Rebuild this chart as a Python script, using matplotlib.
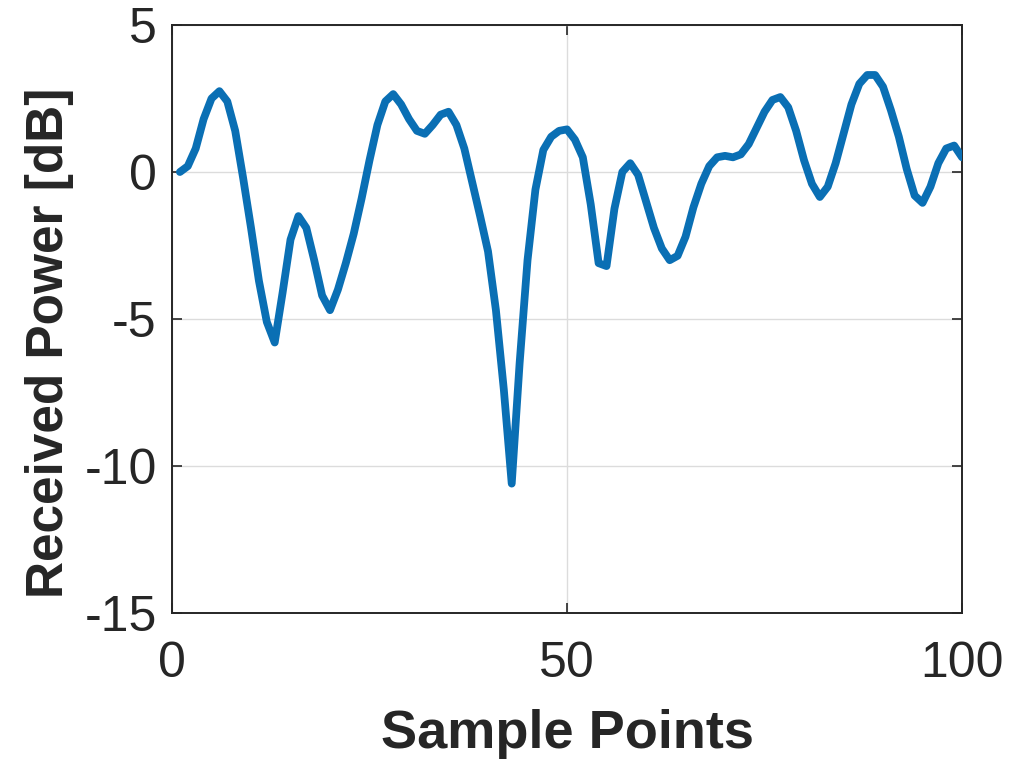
import numpy as np
import matplotlib
matplotlib.use("Agg")
import matplotlib.pyplot as plt

# Received power per sample point (dB)
sample_points = list(range(1, 101))
received_power_db = [
    0.0, 0.2, 0.8, 1.8, 2.5, 2.75, 2.4, 1.4, -0.2, -1.9,
    -3.7, -5.1, -5.8, -4.1, -2.3, -1.5, -1.9, -3.0, -4.2, -4.7,
    -4.0, -3.1, -2.1, -0.9, 0.4, 1.6, 2.4, 2.65, 2.3, 1.8,
    1.4, 1.3, 1.6, 1.95, 2.05, 1.6, 0.8, -0.35, -1.5, -2.7,
    -4.7, -7.4, -10.6, -6.5, -3.0, -0.6, 0.75, 1.2, 1.4, 1.45,
    1.1, 0.5, -1.1, -3.1, -3.2, -1.25, 0.0, 0.3, -0.1, -1.0,
    -1.9, -2.6, -3.0, -2.85, -2.2, -1.2, -0.4, 0.2, 0.5, 0.55,
    0.5, 0.6, 0.95, 1.5, 2.05, 2.45, 2.55, 2.2, 1.4, 0.4,
    -0.4, -0.85, -0.5, 0.3, 1.3, 2.3, 3.0, 3.3, 3.3, 2.9,
    2.1, 1.2, 0.1, -0.8, -1.05, -0.5, 0.3, 0.8, 0.9, 0.5,
]

x_ticks = [0, 50, 100]
y_ticks = [-15, -10, -5, 0, 5]

plt.rcParams["font.family"] = ["Liberation Sans", "DejaVu Sans"]

fig = plt.figure(figsize=(10.19, 7.65), dpi=100)
ax = fig.add_axes([0.1688, 0.1987, 0.7753, 0.7686])

ax.plot(sample_points, received_power_db, color="#0a6fb4", linewidth=5.6,
        solid_joinstyle="round", solid_capstyle="round", zorder=3)

ax.set_xlim(0, 100)
ax.set_ylim(-15, 5)
ax.set_xticks(x_ticks)
ax.set_yticks(y_ticks)
ax.set_xticklabels([str(t) for t in x_ticks])
ax.set_yticklabels([str(t) for t in y_ticks])

ax.grid(True, color="#dcdcdc", linewidth=1.0, zorder=0)
ax.set_axisbelow(True)

for spine in ax.spines.values():
    spine.set_color("#262626")
    spine.set_linewidth(1.4)

ax.tick_params(axis="both", which="both", direction="in", length=7, width=1.2,
               color="#262626", labelsize=36, labelcolor="#262626",
               top=True, right=True)
ax.tick_params(axis="x", pad=20)
ax.tick_params(axis="y", pad=11)

fig.text(0.5565, 1 - 748 / 765, "Sample Points", ha="center", va="baseline",
         fontsize=39, fontweight="bold", color="#262626")
fig.text(50 / 1019, 1 - 343 / 765, "Received Power [dB]", ha="center",
         va="center", rotation=90, fontsize=37, fontweight="bold",
         color="#262626")

fig.savefig("out.png", dpi=100)
